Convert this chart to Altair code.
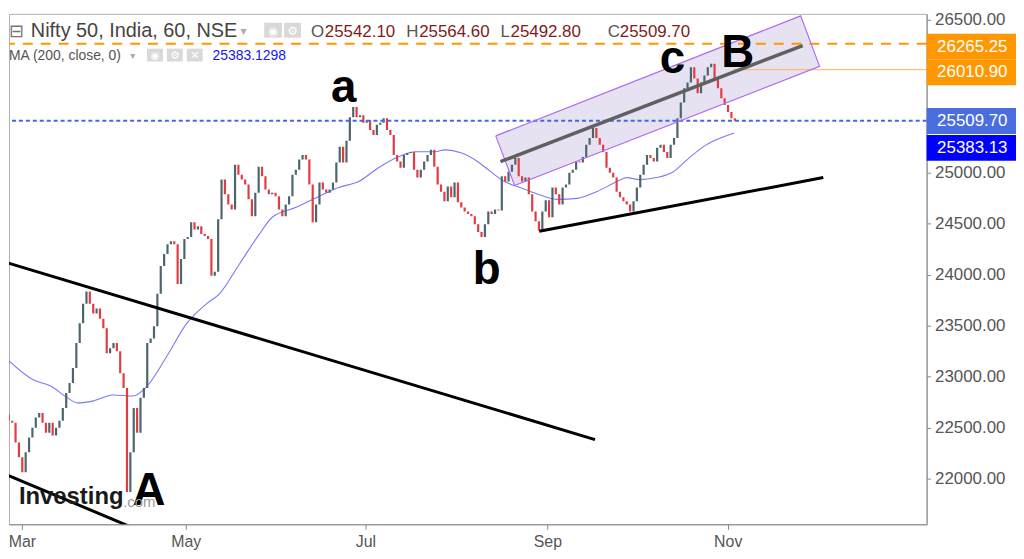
import altair as alt
import pandas as pd
import numpy as np

# ---------------- data ----------------
closes = [
    22600, 22630, 22570, 22550, 22355, 22210, 22065, 22260, 22405, 22500,
    22600, 22645, 22550, 22450, 22550, 22425, 22500, 22570, 22695, 22840,
    22940, 23085, 23330, 23525, 23715, 23835, 23715, 23620, 23670, 23570,
    23475, 23230, 23280, 23330, 23250, 23035, 22890, 21870, 22260, 22695,
    22450, 22795, 22890, 23330, 23375, 23495, 23815, 24085, 24205, 24300,
    24330, 24300, 23910, 24155, 24350, 24370, 24515, 24445, 24475, 24400,
    24380, 24350, 23990, 24030, 24545, 24935, 24790, 24690, 24640, 25080,
    24980, 24935, 24885, 24740, 24575, 24805, 25060, 24965, 24835, 24790,
    24805, 24770, 24640, 24575, 24690, 24770, 24980, 25030, 25130, 25175,
    25130, 24885, 24515, 24690, 24905, 24835, 24805, 24835, 24905, 25100,
    25255, 25100, 25315, 25545, 25645, 25545, 25565, 25490, 25515, 25420,
    25370, 25470, 25490, 25535, 25420, 25370, 25175, 25110, 25050, 25175,
    25195, 25205, 25030, 24955, 25030, 25110, 25175, 25225, 25060, 24885,
    24815, 24720, 24865, 24760, 24905, 24710, 24660, 24620, 24595, 24575,
    24495, 24420, 24370, 24495, 24620, 24595, 24640, 24630, 24965, 24915,
    25010, 25080, 25145, 24965, 24915, 24955, 24790, 24620, 24525, 24435,
    24620, 24730, 24565, 24855, 24790, 24690, 24855, 24885, 25000, 25030,
    25110, 25100, 25155, 25275, 25340, 25440, 25340, 25275, 25205, 25050,
    25000, 24955, 24815, 24760, 24720, 24690, 24620, 24720, 24855, 24980,
    25080, 25175, 25145, 25110, 25245, 25275, 25205, 25145, 25275, 25340,
    25535, 25690, 25830, 25885, 26035, 25925, 25780, 25885, 25955, 26035,
    26070, 25925, 25830, 25730, 25665, 25595, 25535, 25510,
]
first_open = 22620

# 200-period moving average (bar index, value)
ma_idx = [0.6, 9.4, 14.4, 19.4, 22.4, 27.1, 32.9, 38.8, 43.0, 48.8, 54.7, 60.6,
          64.4, 70.3, 76.2, 80.0, 87.1, 93.8, 99.7, 105.6, 111.5, 117.4, 122.4,
          128.2, 131.2, 135.9, 140.9, 144.7, 148.8, 152.6, 156.5, 160.6, 164.4,
          170.3, 176.2, 182.1, 185.0, 188.8, 193.8, 198.8, 203.5, 208.5, 213.5, 216.8]
ma_val = [23201, 22968, 22910, 22793, 22744, 22764, 22822, 22812, 22910, 23201,
          23523, 23717, 23814, 24106, 24398, 24564, 24661, 24768, 24856, 24914,
          25050, 25157, 25206, 25206, 25225, 25196, 25109, 25011, 24914, 24865,
          24817, 24768, 24739, 24749, 24817, 24914, 24953, 24933, 24953, 25011,
          25147, 25274, 25352, 25391]

month_pos = [5.9, 54.4, 107.6, 161.5, 214.9]
month_lbl = ["Mar", "May", "Jul", "Sep", "Nov"]
y_ticks = [22000, 22500, 23000, 23500, 24000, 24500, 25000, 26500]

# black trendlines
trend_id = ["t1", "t1", "t2", "t2", "t3", "t3"]
trend_x = [-0.3, 175.6, -0.3, 37.4, 159.1, 243.2]
trend_y = [24136, 22384, 22063, 21538, 24427, 24953]

# channel centre line and channel box corners
mid_x = [147.6, 237.1]
mid_y = [25109, 26247]
chan_x = [146.2, 236.5, 242.1, 151.8]
chan_y = [25362, 26539, 26043, 24875]

# wave annotations
ann_text = ["a", "b", "c", "A", "B"]
ann_x = [101.2, 143.5, 198.5, 43.5, 217.9]
ann_y = [25692, 23910, 25974, 21739, 26033]

level_orange = 26265.25
level_orange2 = 26010.90
level_last = 25509.70
orange2_from = 216.5

lab_text = ["26265.25", "26010.90", "25509.70", "25383.13"]
lab_pos = [26237, 25984, 25508, 25245]
lab_color = ["#ff9800", "#ff9800", "#4a6ee0", "#0000ff"]

# ---------------- chart ----------------
W, H = 924, 514
xmin, xmax = 2.06, 273.8
ymin, ymax = 21553.6, 26558.4
upp = (ymax - ymin) / H
FONT = "Liberation Sans"

xsc = alt.Scale(domain=[xmin, xmax], nice=False, zero=False)
ysc = alt.Scale(domain=[ymin, ymax], nice=False, zero=False)

lbl_expr = "''"
for v, l in reversed(list(zip(month_pos, month_lbl))):
    lbl_expr = f"datum.value == {v} ? '{l}' : {lbl_expr}"

xaxis = alt.Axis(values=month_pos, labelExpr=lbl_expr, title=None, grid=False,
                 tickSize=5, tickColor="#888", domainColor="#888",
                 labelFontSize=16, labelColor="#555", labelFont=FONT,
                 labelPadding=4, labelFlush=False)
yaxis = alt.Axis(values=y_ticks, format=".2f", orient="right", title=None,
                 grid=False, tickSize=4, tickColor="#888", domainColor="#888",
                 labelFontSize=17, labelColor="#555", labelFont=FONT,
                 labelPadding=4)


def X(f):
    return alt.X(f, type="quantitative", scale=xsc, axis=xaxis)


def Y(f):
    return alt.Y(f, type="quantitative", scale=ysc, axis=yaxis)


opens = [first_open] + closes[:-1]
candles = pd.DataFrame({
    "i": np.arange(len(closes)),
    "o": opens,
    "c": closes,
})
candles["dir"] = np.where(candles["c"] >= candles["o"], "up", "down")

ma_df = pd.DataFrame({"i": ma_idx, "v": ma_val})
trend_df = pd.DataFrame({"id": trend_id, "x": trend_x, "y": trend_y})
mid_df = pd.DataFrame({"x": mid_x, "y": mid_y})

cx = np.array(chan_x)
cy = np.array(chan_y)
xs = np.sort(cx)
top = np.interp(xs, [cx[0], cx[1], cx[2]], [cy[0], cy[1], cy[2]])
bot = np.interp(xs, [cx[0], cx[3], cx[2]], [cy[0], cy[3], cy[2]])
chan_fill = pd.DataFrame({"x": xs, "top": top, "bot": bot})
chan_out = pd.DataFrame({"x": list(cx) + [cx[0]], "y": list(cy) + [cy[0]],
                         "o": list(range(5))})

ann_df = pd.DataFrame({"t": ann_text, "x": ann_x, "y": ann_y})
lvl_df = pd.DataFrame({"y": [level_last]})
org_df = pd.DataFrame({"y": [level_orange]})
org2_df = pd.DataFrame({"x": [orange2_from], "x2": [xmax], "y": [level_orange2]})
lab_df = pd.DataFrame({"t": lab_text, "p": lab_pos, "col": lab_color})
lab_df["lo"] = lab_df["p"] - 13 * upp
lab_df["hi"] = lab_df["p"] + 13 * upp

dummy = pd.DataFrame({"d": [0]})

layers = []

layers.append(alt.Chart(chan_fill).mark_area(color="#e4dff1", opacity=0.9, clip=True)
              .encode(x=X("x"), y=Y("top"), y2="bot"))

layers.append(alt.Chart(ma_df).mark_line(color="#7a7af5", strokeWidth=1.1,
                                         interpolate="monotone", clip=True)
              .encode(x=X("i"), y=Y("v")))

layers.append(alt.Chart(candles).mark_rule(strokeWidth=2.2, clip=True)
              .encode(x=X("i"), y=Y("o"), y2="c",
                      color=alt.Color("dir:N", legend=None,
                                      scale=alt.Scale(domain=["up", "down"],
                                                      range=["#4c666e", "#e23c42"]))))

layers.append(alt.Chart(lvl_df).mark_rule(color="#3f6ae0", strokeWidth=2,
                                          strokeDash=[4, 3])
              .encode(y=Y("y")))
layers.append(alt.Chart(org_df).mark_rule(color="#ff9800", strokeWidth=2,
                                          strokeDash=[10, 8])
              .encode(y=Y("y")))
layers.append(alt.Chart(org2_df).mark_rule(color="#ffb24d", strokeWidth=1)
              .encode(x=X("x"), x2="x2", y=Y("y")))

layers.append(alt.Chart(trend_df).mark_line(color="black", strokeWidth=3, clip=True)
              .encode(x=X("x"), y=Y("y"), detail="id:N"))

layers.append(alt.Chart(chan_out).mark_line(color="#b06cf0", strokeWidth=1.2, clip=True)
              .encode(x=X("x"), y=Y("y"), order="o:Q"))
layers.append(alt.Chart(mid_df).mark_line(color="#606060", strokeWidth=3.5, clip=True)
              .encode(x=X("x"), y=Y("y")))

layers.append(alt.Chart(ann_df).mark_text(fontSize=46, fontWeight="bold", font=FONT,
                                          color="black", baseline="alphabetic",
                                          align="center")
              .encode(x=X("x"), y=Y("y"), text="t:N"))


def txt(text, x, y, size, color, weight="normal", align="left", font=FONT):
    return (alt.Chart(dummy)
            .mark_text(text=text, fontSize=size, color=color, fontWeight=weight,
                       align=align, baseline="alphabetic", font=font)
            .encode(x=alt.value(x), y=alt.value(y)))


def box(x0, x1, y0, y1, color):
    return (alt.Chart(dummy).mark_rect(color=color)
            .encode(x=alt.value(x0), x2=alt.value(x1), y=alt.value(y0), y2=alt.value(y1)))


# watermark
layers.append(txt("Investing", 10, 494, 24, "#1a1a1a", weight="bold"))
layers.append(txt(".com", 115, 497, 15, "#9a9a9a"))

# header (legend rows)
layers.append(txt("\u229f", 0, 23, 18, "#777", font="DejaVu Sans"))
layers.append(txt("Nifty 50, India, 60, NSE", 22, 23, 20, "#444"))
layers.append(txt("\u25be", 233, 21, 12, "#aaa", font="DejaVu Sans"))
layers.append(box(257, 275, 9, 24, "#d9d9d9"))
layers.append(box(277, 294, 9, 24, "#d9d9d9"))
layers.append(txt("\u25c9", 266, 21, 11, "white", align="center", font="DejaVu Sans"))
layers.append(txt("\u2699", 285.5, 21, 12, "white", align="center", font="DejaVu Sans"))
for lt, lx, vt, vx in [("O", 304, "25542.10", 318), ("H", 400, "25564.60", 413),
                       ("L", 495, "25492.80", 505), ("C", 603, "25509.70", 615)]:
    layers.append(txt(lt, lx, 23, 17, "#555"))
    layers.append(txt(vt, vx, 23, 17, "#7d1c1c"))

layers.append(txt("MA (200, close, 0)", 0, 46, 14, "#555"))
layers.append(txt("\u25be", 122, 45, 10, "#aaa", font="DejaVu Sans"))
layers.append(box(139, 155, 35, 48, "#d9d9d9"))
layers.append(box(159, 175, 35, 48, "#d9d9d9"))
layers.append(box(179, 195, 35, 48, "#d9d9d9"))
layers.append(txt("\u25c9", 147, 45.5, 10, "white", align="center", font="DejaVu Sans"))
layers.append(txt("\u2699", 167, 45.5, 11, "white", align="center", font="DejaVu Sans"))
layers.append(txt("\u2715", 187, 45.5, 11, "white", align="center", font="DejaVu Sans"))
layers.append(txt("25383.1298", 205, 46, 14, "#1515ff"))

# price labels on the right axis
layers.append(alt.Chart(lab_df).mark_rect()
              .encode(x=alt.value(W), x2=alt.value(W + 90),
                      y=Y("hi"), y2="lo",
                      color=alt.Color("col:N", scale=None)))
layers.append(alt.Chart(lab_df).mark_text(color="white", fontSize=17, font=FONT,
                                          align="center", baseline="middle")
              .encode(x=alt.value(W + 46), y=Y("p"), text="t:N"))

chart = (alt.layer(*layers)
         .properties(width=W, height=H, padding=0, background="white")
         .configure_view(stroke="#b0b0b0", strokeWidth=1))

chart.save("out.html", embed_options={"renderer": "svg", "actions": False})
